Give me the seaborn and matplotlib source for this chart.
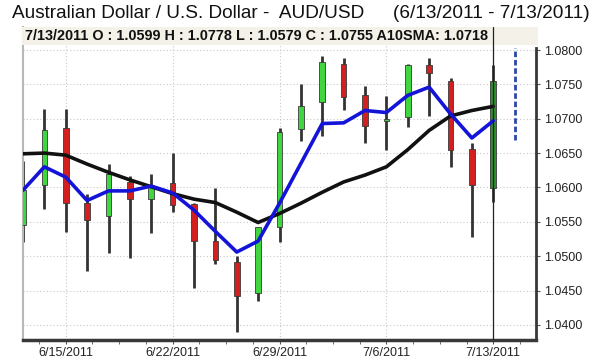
import matplotlib
matplotlib.use("Agg")
import matplotlib.pyplot as plt
from matplotlib.patches import Rectangle
import seaborn as sns
import numpy as np
import pandas as pd

# ---- data ----
dates = ["6/13/2011", "6/14/2011", "6/15/2011", "6/16/2011", "6/17/2011",
         "6/20/2011", "6/21/2011", "6/22/2011", "6/23/2011", "6/24/2011",
         "6/27/2011", "6/28/2011", "6/29/2011", "6/30/2011", "7/1/2011",
         "7/4/2011", "7/5/2011", "7/6/2011", "7/7/2011", "7/8/2011",
         "7/11/2011", "7/12/2011", "7/13/2011"]
opens = [1.0546, 1.0603, 1.0686, 1.0578, 1.0558, 1.0608, 1.0583, 1.0606, 1.0576, 1.0522,
         1.0492, 1.0446, 1.0542, 1.0685, 1.0724, 1.0779, 1.0735, 1.0697, 1.0703, 1.0778,
         1.0755, 1.0656, 1.0599]
highs = [1.0638, 1.0714, 1.0714, 1.0590, 1.0634, 1.0616, 1.0620, 1.0650, 1.0577, 1.0599,
         1.0500, 1.0543, 1.0686, 1.0750, 1.0791, 1.0788, 1.0748, 1.0733, 1.0779, 1.0789,
         1.0760, 1.0664, 1.0778]
lows = [1.0521, 1.0568, 1.0535, 1.0479, 1.0505, 1.0497, 1.0534, 1.0565, 1.0454, 1.0489,
        1.0390, 1.0435, 1.0521, 1.0668, 1.0675, 1.0712, 1.0664, 1.0654, 1.0688, 1.0704,
        1.0630, 1.0528, 1.0579]
closes = [1.0596, 1.0684, 1.0577, 1.0553, 1.0619, 1.0583, 1.0601, 1.0575, 1.0522, 1.0495,
          1.0442, 1.0542, 1.0681, 1.0718, 1.0783, 1.0732, 1.0690, 1.0700, 1.0778, 1.0766,
          1.0655, 1.0604, 1.0755]
fast_ma = [1.0596, 1.0630, 1.0615, 1.0581, 1.0595, 1.0595, 1.0602, 1.0592, 1.0567, 1.0536,
           1.0506, 1.0522, 1.0577, 1.0635, 1.0693, 1.0694, 1.0712, 1.0709, 1.0734, 1.0746,
           1.0707, 1.0672, 1.0697]
sma10 = [1.0649, 1.0650, 1.0647, 1.0634, 1.0622, 1.0611, 1.0601, 1.0591, 1.0583, 1.0578,
         1.0564, 1.0549, 1.0562, 1.0577, 1.0593, 1.0608, 1.0618, 1.0630, 1.0655, 1.0683,
         1.0704, 1.0712, 1.0718]
range_low, range_high = 1.0669, 1.0803
tick_dates = ["6/15/2011", "6/22/2011", "6/29/2011", "7/6/2011", "7/13/2011"]
y_ticks = [1.0400, 1.0450, 1.0500, 1.0550, 1.0600, 1.0650, 1.0700, 1.0750, 1.0800]
title_left = "Australian Dollar / U.S. Dollar -  AUD/USD"
title_right = "(6/13/2011 - 7/13/2011)"
header = "7/13/2011 O : 1.0599 H : 1.0778 L : 1.0579 C : 1.0755 A10SMA: 1.0718"

df = pd.DataFrame({"date": dates, "open": opens, "high": highs, "low": lows,
                   "close": closes, "fast": fast_ma, "sma10": sma10})
df["i"] = np.arange(len(df))

sns.set_style("white")
plt.rcParams["font.family"] = ["Liberation Sans", "DejaVu Sans"]

fig = plt.figure(figsize=(6, 3.6), dpi=100)
W, H = 600, 360
ax = fig.add_axes([23 / W, 20 / H, 513 / W, 313 / H])
ax.set_facecolor("white")

# grid
for yv in y_ticks:
    ax.axhline(yv, color="#c8c8c8", lw=0.8, ls=(0, (1, 2)), zorder=0)
tick_pos = [dates.index(d) for d in tick_dates]
for xv in tick_pos:
    ax.axvline(xv, color="#c8c8c8", lw=0.8, ls=(0, (1, 2)), zorder=0)

# candles
up = df["close"] >= df["open"]
colors = ["#3fd63f" if u else "#d21f1f" for u in up]
colors[-1] = "#2f8f2f"
ax.vlines(df["i"], df["low"], df["high"], color="#333333", lw=2.0, zorder=2)
bottoms = np.minimum(df["open"], df["close"])
heights = np.maximum(np.abs(df["close"] - df["open"]), 0.00012)
ax.bar(df["i"], heights, bottom=bottoms, width=0.26, color=colors,
       edgecolor="#3a3a3a", linewidth=0.6, zorder=3)

# moving averages
sns.lineplot(data=df, x="i", y="sma10", color="#111111", lw=2.6, ax=ax, zorder=4)
sns.lineplot(data=df, x="i", y="fast", color="#1414d8", lw=2.6, ax=ax, zorder=5)

# header box (inside the plot, under the crosshair)
ax.add_patch(Rectangle((22 / W, (H - 45) / H), 516 / W, 18 / H,
                       transform=fig.transFigure, facecolor="#f3f1e8",
                       edgecolor="none", zorder=6, clip_on=False))
fig.text(25 / W, 1 - 36 / H, header, fontsize=10.4, fontweight="bold",
         va="center", ha="left", color="#111111", zorder=11)

# crosshair and range marker
ax.axvline(len(df) - 1, color="#222222", lw=0.9, zorder=7)
ax.vlines(len(df), range_low, range_high, color="#2a48a8", lw=2.0,
          linestyles=(0, (2, 1)), zorder=7)

ax.set_xlim(0, 24)
ax.set_ylim(1.0378, 1.08335)
ax.set_xlabel("")
ax.set_ylabel("")

ax.set_xticks(tick_pos)
ax.set_xticklabels(tick_dates, fontsize=9, color="#222222")
ax.set_xticks(np.arange(0.75, 23.5, 1.25), minor=True)
ax.tick_params(axis="x", which="both", direction="out", length=3, color="#555555",
               pad=2, bottom=True)
ax.yaxis.tick_right()
ax.set_yticks(y_ticks)
ax.set_yticklabels([f"{v:.4f}" for v in y_ticks], fontsize=9, color="#222222")
ax.tick_params(axis="y", which="both", direction="out", length=3, color="#555555",
               pad=3, right=True, left=False)

ax.spines["top"].set_visible(False)
ax.spines["left"].set_color("#b8b8b8")
ax.spines["left"].set_linewidth(1.5)
ax.spines["bottom"].set_color("#383838")
ax.spines["bottom"].set_linewidth(2.5)
ax.spines["right"].set_color("#383838")
ax.spines["right"].set_linewidth(2.0)
ax.spines["right"].set_bounds(1.0378, 1.0803)

# title
fig.text(12 / W, 1 - 14 / H, title_left, fontsize=13.7, va="center", ha="left",
         color="#111111")
fig.text(590 / W, 1 - 14 / H, title_right, fontsize=13.7, va="center", ha="right",
         color="#111111")

fig.savefig("out.png", dpi=100, facecolor="white")
